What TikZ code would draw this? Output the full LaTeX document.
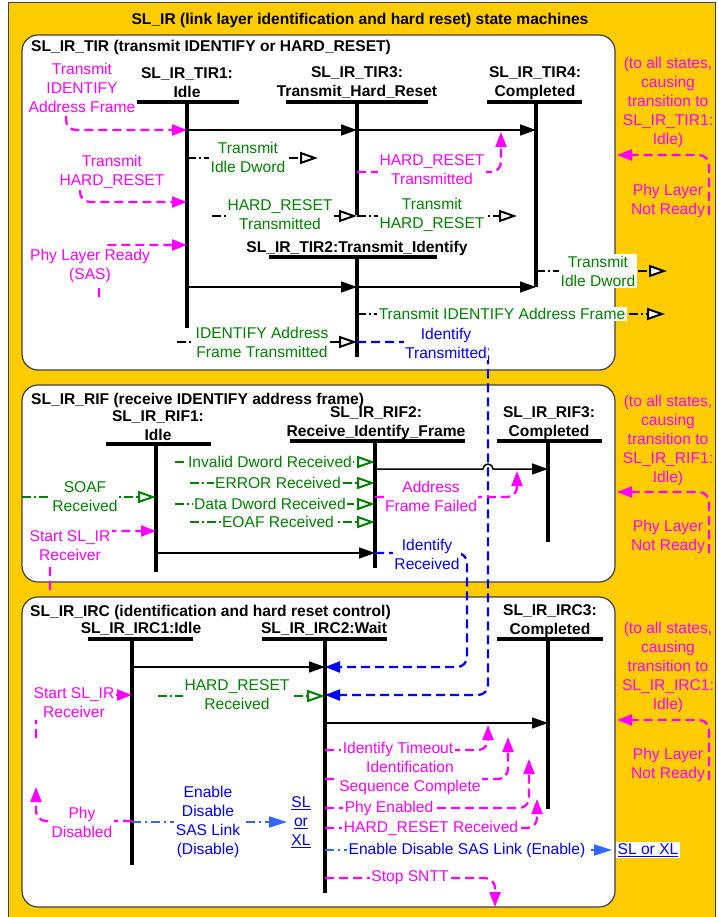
\documentclass[tikz,border=0pt]{standalone}
\usepackage{fontspec}
\setmainfont{Liberation Sans}
\usetikzlibrary{arrows.meta}
\definecolor{ybg}{HTML}{FFCC00}
\definecolor{mag}{HTML}{FF00FF}
\definecolor{grn}{HTML}{008000}
\definecolor{blu}{HTML}{0000FF}
\definecolor{lblu}{HTML}{3366FF}
\definecolor{bord}{HTML}{404040}
\tikzset{
  txt/.style={font=\fontsize{15.6}{19}\selectfont, align=center, inner sep=1.5pt},
  lbl/.style={txt, fill=white},
  hdr/.style={font=\fontsize{15.6}{19}\selectfont\bfseries, align=center, inner sep=0pt},
  bar/.style={line width=3.3pt},
  sline/.style={line width=3.3pt},
  tr/.style={line width=1.5pt, -{Triangle[length=16pt,width=11pt]}},
  msg/.style={line width=2pt, dash pattern=on 9pt off 3pt on 2pt off 3pt, -{Triangle[open,length=18pt,width=12pt,fill=white]}},
  gmsg/.style={msg, draw=grn},
  mg/.style={draw=mag, line width=2.3pt, dash pattern=on 9pt off 5pt, rounded corners=10pt, -{Triangle[length=15pt,width=11pt]}},
  bl/.style={draw=blu, line width=2.3pt, dash pattern=on 9pt off 5pt, rounded corners=10pt, -{Triangle[length=15pt,width=11pt]}},
  lb/.style={draw=lblu, line width=2pt, dash pattern=on 9pt off 4pt on 2pt off 4pt, -{Triangle[length=18pt,width=11pt]}},
  panel/.style={fill=white, draw=bord, line width=1.2pt, rounded corners=16pt}
}
\begin{document}
\begin{tikzpicture}[x=1pt,y=-1pt]
\useasboundingbox (0,0) rectangle (717,917);
\fill[white] (0,0) rectangle (717,917);
\draw[fill=ybg, draw=bord, line width=1pt] (8,3) rectangle (715,925);
\node[hdr] (title) at (360,20) {SL\_IR (link layer identification and hard reset) state machines};

% panels
\draw[panel] (22,35) rectangle (615,370);
\draw[panel] (22,385) rectangle (615,582);
\draw[panel] (22,597) rectangle (615,907);
\node[hdr, anchor=west] (tirT) at (31,47) {SL\_IR\_TIR (transmit IDENTIFY or HARD\_RESET)};
\node[hdr, anchor=west] (rifT) at (31,400) {SL\_IR\_RIF (receive IDENTIFY address frame)};
\node[hdr, anchor=west] (ircT) at (30,612) {SL\_IR\_IRC (identification and hard reset control)};

% state x positions
\coordinate (T1) at (187,0);
\coordinate (T3) at (357,0);
\coordinate (T4) at (536,0);
\coordinate (R1) at (156,0);
\coordinate (R2) at (375,0);
\coordinate (R3) at (548,0);
\coordinate (C1) at (132,0);
\coordinate (C2) at (325,0);
\coordinate (C3) at (548,0);

% ---------- TIR states
\node[hdr] (tir1) at (187,83) {SL\_IR\_TIR1:\\Idle};
\node[hdr] (tir3) at (357,83) {SL\_IR\_TIR3:\\Transmit\_Hard\_Reset};
\node[hdr] (tir4) at (535,83) {SL\_IR\_TIR4:\\Completed};
\node[hdr] (tir2) at (357,248) {SL\_IR\_TIR2:Transmit\_Identify};
\draw[bar] (135,102) -- (239,102);
\draw[bar] (286,102) -- (428,102);
\draw[bar] (487,102) -- (582,102);
\draw[bar] (269,257) -- (437,257);
\draw[sline] (T1 |- 0,102) -- (T1 |- 0,328);
\draw[sline] (T3 |- 0,102) -- (T3 |- 0,215);
\draw[sline] (T4 |- 0,102) -- (T4 |- 0,287);
\draw[sline] (T3 |- 0,257) -- (T3 |- 0,357);

% ---------- RIF states
\node[hdr] (rif1) at (158,426) {SL\_IR\_RIF1:\\Idle};
\node[hdr] (rif2) at (376,423) {SL\_IR\_RIF2:\\Receive\_Identify\_Frame};
\node[hdr] (rif3) at (549,423) {SL\_IR\_RIF3:\\Completed};
\draw[bar] (106,444) -- (211,444);
\draw[bar] (290,441) -- (465,441);
\draw[bar] (497,441) -- (602,441);
\draw[sline] (R1 |- 0,444) -- (R1 |- 0,572);
\draw[sline] (R2 |- 0,441) -- (R2 |- 0,568);
\draw[sline] (R3 |- 0,441) -- (R3 |- 0,542);

% ---------- IRC states
\node[hdr] (irc1) at (141,629) {SL\_IR\_IRC1:Idle};
\node[hdr] (irc2) at (324,629) {SL\_IR\_IRC2:Wait};
\node[hdr] (irc3) at (550,621) {SL\_IR\_IRC3:\\Completed};
\draw[bar] (88,639) -- (193,639);
\draw[bar] (262,639) -- (387,639);
\draw[bar] (497,639) -- (603,639);
\draw[sline] (C1 |- 0,639) -- (C1 |- 0,865);
\draw[sline] (C2 |- 0,639) -- (C2 |- 0,893);
\draw[sline] (C3 |- 0,639) -- (C3 |- 0,809);

% ---------- solid transitions
\draw[tr] (T1 |- 0,130) -- (T3 |- 0,130);
\draw[tr] (T3 |- 0,130) -- (T4 |- 0,130);
\draw[tr] (T1 |- 0,287) -- (T3 |- 0,287);
\draw[tr] (T3 |- 0,287) -- (T4 |- 0,287);
\draw[tr] (R1 |- 0,553) -- (R2 |- 0,553);
\draw[tr] (R2 |- 0,469) -- (483,469) arc[start angle=180,end angle=0,radius=5pt] -- (R3 |- 0,469);
\draw[tr] (C1 |- 0,667) -- (C2 |- 0,667);
\draw[tr] (C2 |- 0,723) -- (C3 |- 0,723);

% ---------- message lines (black / green)
\draw[msg] (T1 |- 0,158) -- (318,158);
\draw[msg] (212,216) -- (T3 |- 0,216);
\draw[msg] (T3 |- 0,216) -- (517,216);
\draw[msg] (T4 |- 0,271) -- (667,271);
\draw[msg] (T3 |- 0,314) -- (665,314);
\draw[msg] (177,342) -- (T3 |- 0,342);
\draw[gmsg] (175,462) -- (R2 |- 0,462);
\draw[gmsg] (190,483) -- (R2 |- 0,483);
\draw[gmsg] (175,504) -- (R2 |- 0,504);
\draw[gmsg] (190,522) -- (R2 |- 0,522);
\draw[gmsg] (22,497) -- (R1 |- 0,497);
\draw[gmsg] (158,696) -- (C2 |- 0,696);

% ---------- blue
\draw[bl] (T3 |- 0,342) -| (488,600) |- (C2 |- 0,695);
\draw[bl] (R2 |- 0,553) -| (467,600) |- (C2 |- 0,667);
\draw[lb] (C1 |- 0,822) -- (287,822);
\draw[lb] (C2 |- 0,850) -- (612,850);

% ---------- magenta
\draw[mg] (66,116) |- (T1 |- 0,130);
\draw[mg] (80,190) |- (T1 |- 0,202);
\draw[mg] (99,297) |- (T1 |- 0,245);
\draw[mg] (T3 |- 0,172) -| (501,132);
\draw[mg] (709,215) |- (617,155);
\draw[mg] (50,590) |- (R1 |- 0,531);
\draw[mg] (R2 |- 0,497) -| (517,471);
\draw[mg] (709,553) |- (617,492);
\draw[mg] (36,738) |- (C1 |- 0,695);
\draw[mg] (C1 |- 0,821) -| (36,787);
\draw[mg] (C2 |- 0,750) -| (488,725);
\draw[mg] (C2 |- 0,779) -| (508,737);
\draw[mg] (C2 |- 0,808) -| (529,759);
\draw[mg] (C2 |- 0,828) -| (537,799);
\draw[mg] (C2 |- 0,878) -| (495,907);
\draw[mg] (709,780) |- (617,720);

% ---------- labels TIR
\node[lbl, text=mag] (l1) at (82,88) {Transmit\\IDENTIFY\\Address Frame};
\node[lbl, text=mag] (l2) at (112,172) {Transmit\\HARD\_RESET};
\node[lbl, text=mag, inner ysep=3.5pt] (l3) at (90,266) {Phy Layer Ready\\(SAS)};
\node[lbl, text=grn] (l4) at (248,157) {Transmit\\Idle Dword};
\node[lbl, text=grn] (l5) at (280,215) {HARD\_RESET\\Transmitted};
\node[lbl, text=grn] (l6) at (432,215) {Transmit\\HARD\_RESET};
\node[lbl, text=mag] (l7) at (432,170) {HARD\_RESET\\Transmitted};
\node[lbl, text=grn] (l8) at (598,271) {Transmit\\Idle Dword};
\node[lbl, text=grn] (l9) at (502,314) {Transmit IDENTIFY Address Frame};
\node[lbl, text=grn] (l10) at (262,342) {IDENTIFY Address\\Frame Transmitted};
\node[lbl, text=blu] (l11) at (446,343) {Identify\\Transmitted};
\node[txt, text=mag] (l12) at (668,102) {(to all states,\\causing\\transition to\\SL\_IR\_TIR1:\\Idle)};
\node[txt, text=mag] (l13) at (668,201) {Phy Layer\\Not Ready};

% ---------- labels RIF
\node[lbl, text=grn] (m1) at (270,462) {Invalid Dword Received};
\node[lbl, text=grn] (m2) at (278,483) {ERROR Received};
\node[lbl, text=grn] (m3) at (270,504) {Data Dword Received};
\node[lbl, text=grn] (m4) at (278,522) {EOAF Received};
\node[lbl, text=grn] (soaf) at (85,497) {SOAF\\Received};
\node[lbl, text=mag] (ssl) at (70,546) {Start SL\_IR\\Receiver};
\node[lbl, text=mag] (afail) at (431,496) {Address\\Frame Failed};
\node[lbl, text=blu] (idrec) at (427,554) {Identify\\Received};
\node[txt, text=mag] (m5) at (668,440) {(to all states,\\causing\\transition to\\SL\_IR\_RIF1:\\Idle)};
\node[txt, text=mag] (m6) at (668,537) {Phy Layer\\Not Ready};

% ---------- labels IRC
\node[lbl, text=grn] (hrr) at (237,695) {HARD\_RESET\\Received};
\node[lbl, text=mag] (ssl2) at (74,703) {Start SL\_IR\\Receiver};
\node[lbl, text=mag] (phyd) at (82,822) {Phy\\Disabled};
\node[lbl, text=blu] (eds) at (208,822) {Enable\\Disable\\SAS Link\\(Disable)};
\node[lbl, text=blu] (slxl) at (301,822) {\underline{SL}\\\underline{or}\\\underline{XL}};
\node[lbl, text=mag] (idto) at (398,749) {Identify Timeout};
\node[lbl, text=mag] (isc) at (410,778) {Identification\\Sequence Complete};
\node[lbl, text=mag] (phye) at (389,808) {Phy Enabled};
\node[lbl, text=mag] (hrr2) at (431,828) {HARD\_RESET Received};
\node[lbl, text=blu] (ede) at (467,850) {Enable Disable SAS Link (Enable)};
\node[lbl, text=blu] (slxl2) at (648,850) {\underline{SL or XL}};
\node[lbl, text=mag] (stop) at (410,878) {Stop SNTT};
\node[txt, text=mag] (n5) at (668,667) {(to all states,\\causing\\transition to\\SL\_IR\_IRC1:\\Idle)};
\node[txt, text=mag] (n6) at (668,765) {Phy Layer\\Not Ready};
\end{tikzpicture}
\end{document}
